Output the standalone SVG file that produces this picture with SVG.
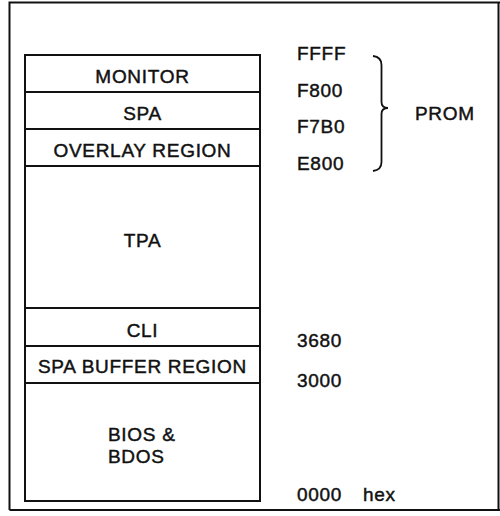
<svg xmlns="http://www.w3.org/2000/svg" width="500" height="516" viewBox="0 0 500 516">
<style>
.box{fill:#fff;stroke:#111;stroke-width:2}
.frame{fill:none;stroke:#111;stroke-width:2}
text{font-family:"Liberation Sans",Arial,sans-serif;font-size:19px;fill:#111;stroke:#111;stroke-width:0.45;letter-spacing:0.7px}
.c{text-anchor:middle}
.brace{fill:none;stroke:#111;stroke-width:1.8}
</style>
<rect width="500" height="516" fill="#fff"/>
<path class="frame" d="M9.5,510 V2.5 H500 M9.5,510 H500 M498.5,2.5 V510"/>
<g id="monitor"><rect class="box" x="25" y="55" width="235" height="37"/><text class="c" x="142.5" y="83">MONITOR</text></g>
<g id="spa"><rect class="box" x="25" y="92" width="235" height="37"/><text class="c" x="142.5" y="119.5">SPA</text></g>
<g id="overlay"><rect class="box" x="25" y="129" width="235" height="37"/><text class="c" x="142.5" y="156.5">OVERLAY REGION</text></g>
<g id="tpa"><rect class="box" x="25" y="166" width="235" height="142"/><text class="c" x="142.5" y="246.5">TPA</text></g>
<g id="cli"><rect class="box" x="25" y="308" width="235" height="38"/><text class="c" x="142.5" y="336.5">CLI</text></g>
<g id="spabuffer"><rect class="box" x="25" y="346" width="235" height="37"/><text class="c" x="142.5" y="373">SPA BUFFER REGION</text></g>
<g id="bios"><rect class="box" x="25" y="383" width="235" height="118"/><text x="108" y="440.5">BIOS &amp;</text><text x="108" y="462.5">BDOS</text></g>
<g id="addresses">
<text x="297" y="60">FFFF</text>
<text x="297" y="96.5">F800</text>
<text x="297" y="133">F7B0</text>
<text x="297" y="170">E800</text>
<text x="297" y="347">3680</text>
<text x="297" y="386.5">3000</text>
<text x="297" y="501">0000</text>
<text x="363" y="501">hex</text>
</g>
<g id="connectors">
<path class="brace" d="M373,56 Q381.5,57 381.5,65 V102 Q381.5,108 388,108 Q381.5,108 381.5,114 V162 Q381.5,170 373,171"/>
</g>
<g id="prom"><text x="415" y="120">PROM</text></g>
</svg>
